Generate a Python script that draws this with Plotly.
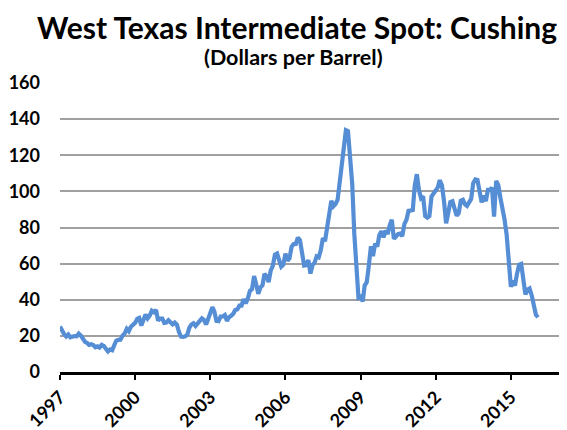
import pandas as pd
import plotly.graph_objects as go

# monthly WTI spot price, Jan 1997 .. Feb 2016
start_month = "1997-01-01"
prices = [
    25.2, 22.2, 21.0, 19.7, 20.8, 19.2, 19.6, 19.9, 19.8, 21.3, 20.2, 18.3,   # 1997
    16.7, 16.1, 15.0, 15.4, 14.9, 13.7, 14.2, 13.5, 15.0, 14.4, 13.0, 11.4,   # 1998
    12.5, 12.0, 14.7, 17.3, 17.8, 17.9, 20.1, 21.3, 23.9, 22.6, 25.0, 26.1,   # 1999
    27.2, 29.4, 29.9, 25.7, 28.8, 31.8, 29.7, 31.2, 33.9, 33.1, 34.4, 28.5,   # 2000
    29.6, 29.6, 27.2, 27.4, 28.6, 27.6, 26.4, 27.4, 26.2, 22.2, 19.6, 19.4,   # 2001
    19.7, 20.7, 24.4, 26.3, 27.0, 25.5, 26.9, 28.4, 29.7, 28.9, 26.3, 29.4,   # 2002
    32.9, 35.9, 33.6, 28.3, 28.1, 30.7, 30.8, 31.6, 28.3, 30.3, 31.1, 32.2,   # 2003
    34.3, 34.7, 36.7, 36.7, 40.3, 38.0, 40.7, 44.9, 45.9, 53.1, 48.5, 43.3,   # 2004
    46.8, 48.0, 54.3, 53.0, 49.8, 56.3, 58.7, 65.0, 65.6, 62.4, 58.3, 59.4,   # 2005
    65.5, 61.6, 62.9, 69.4, 70.8, 70.9, 74.4, 73.0, 63.8, 58.9, 59.1, 62.0,   # 2006
    54.5, 59.3, 60.4, 64.0, 63.5, 67.5, 74.1, 72.4, 79.9, 85.8, 94.8, 91.7,   # 2007
    93.0, 95.4, 105.5, 112.6, 125.4, 133.9, 133.4, 116.7, 104.1, 76.6, 57.3, 41.1,  # 2008
    41.7, 39.1, 47.9, 49.7, 59.0, 69.6, 64.2, 71.1, 69.4, 75.7, 78.0, 74.5,   # 2009
    78.3, 76.4, 81.2, 84.3, 73.7, 75.3, 76.3, 76.6, 75.2, 81.9, 84.3, 89.2,   # 2010
    89.6, 89.7, 102.9, 109.5, 100.9, 96.3, 97.3, 86.3, 85.5, 86.3, 97.2, 98.6,  # 2011
    100.3, 102.2, 106.2, 103.3, 94.7, 82.3, 87.9, 94.1, 94.5, 89.5, 86.5, 87.9,  # 2012
    94.8, 95.3, 92.9, 92.0, 94.5, 95.8, 104.6, 106.6, 106.3, 100.5, 93.9, 97.6,  # 2013
    94.6, 100.8, 100.8, 102.1, 86.0, 105.8, 103.6, 96.5, 91.2, 84.4, 75.8, 59.3,  # 2014
    47.2, 50.6, 47.8, 54.5, 59.3, 59.8, 50.9, 42.9, 45.5, 46.2, 42.4, 37.2,   # 2015
    31.7, 30.3,                                                                # 2016
]
months = pd.date_range(start_month, periods=len(prices), freq="MS")

tick_years = ["1997", "2000", "2003", "2006", "2009", "2012", "2015"]
y_ticks = [0, 20, 40, 60, 80, 100, 120, 140, 160]

title = "West Texas Intermediate Spot: Cushing"
subtitle = "(Dollars per Barrel)"

FONT = "Lato, 'Open Sans', sans-serif"
BLUE = "#558ED5"

fig = go.Figure()
fig.add_scatter(x=months, y=prices, mode="lines",
                line=dict(color=BLUE, width=4.2), showlegend=False)

# the page adds ~8px of body margin, so margins are trimmed to compensate
fig.update_layout(
    width=567, height=430,
    margin=dict(l=52, r=14, t=75, b=66),
    plot_bgcolor="white", paper_bgcolor="white",
    font=dict(family=FONT, size=18, color="black"),
    annotations=[
        dict(text="<b>" + title + "</b>", x=0.474, y=1.259, xref="paper", yref="paper",
             xanchor="center", yanchor="top", showarrow=False, borderpad=0,
             font=dict(size=30, family=FONT)),
        dict(text="<b>" + subtitle + "</b>", x=0.466, y=1.142, xref="paper", yref="paper",
             xanchor="center", yanchor="top", showarrow=False,
             font=dict(size=21.5, family=FONT)),
    ],
)
fig.update_xaxes(
    type="date", range=["1997-01-01", "2017-01-01"], automargin=False,
    tickvals=pd.to_datetime([y + "-01-01" for y in tick_years]), ticktext=[f"<b>{y}</b>" for y in tick_years],
    tickangle=-45, showgrid=False, zeroline=False,
    showline=True, linecolor="black", linewidth=2.5,
    ticks="outside", ticklen=5, tickwidth=2, tickcolor="black",
    tickfont=dict(size=18),
)
fig.update_yaxes(
    range=[0, 160], tickvals=y_ticks, ticktext=[f"<b>{v}</b>" for v in y_ticks],
    showgrid=True, gridcolor="#A0A0A0", gridwidth=1.5, automargin=False,
    zeroline=False, showline=False, ticks="", ticklabelstandoff=19,
    tickfont=dict(size=18),
)
fig.write_html("out.html")
